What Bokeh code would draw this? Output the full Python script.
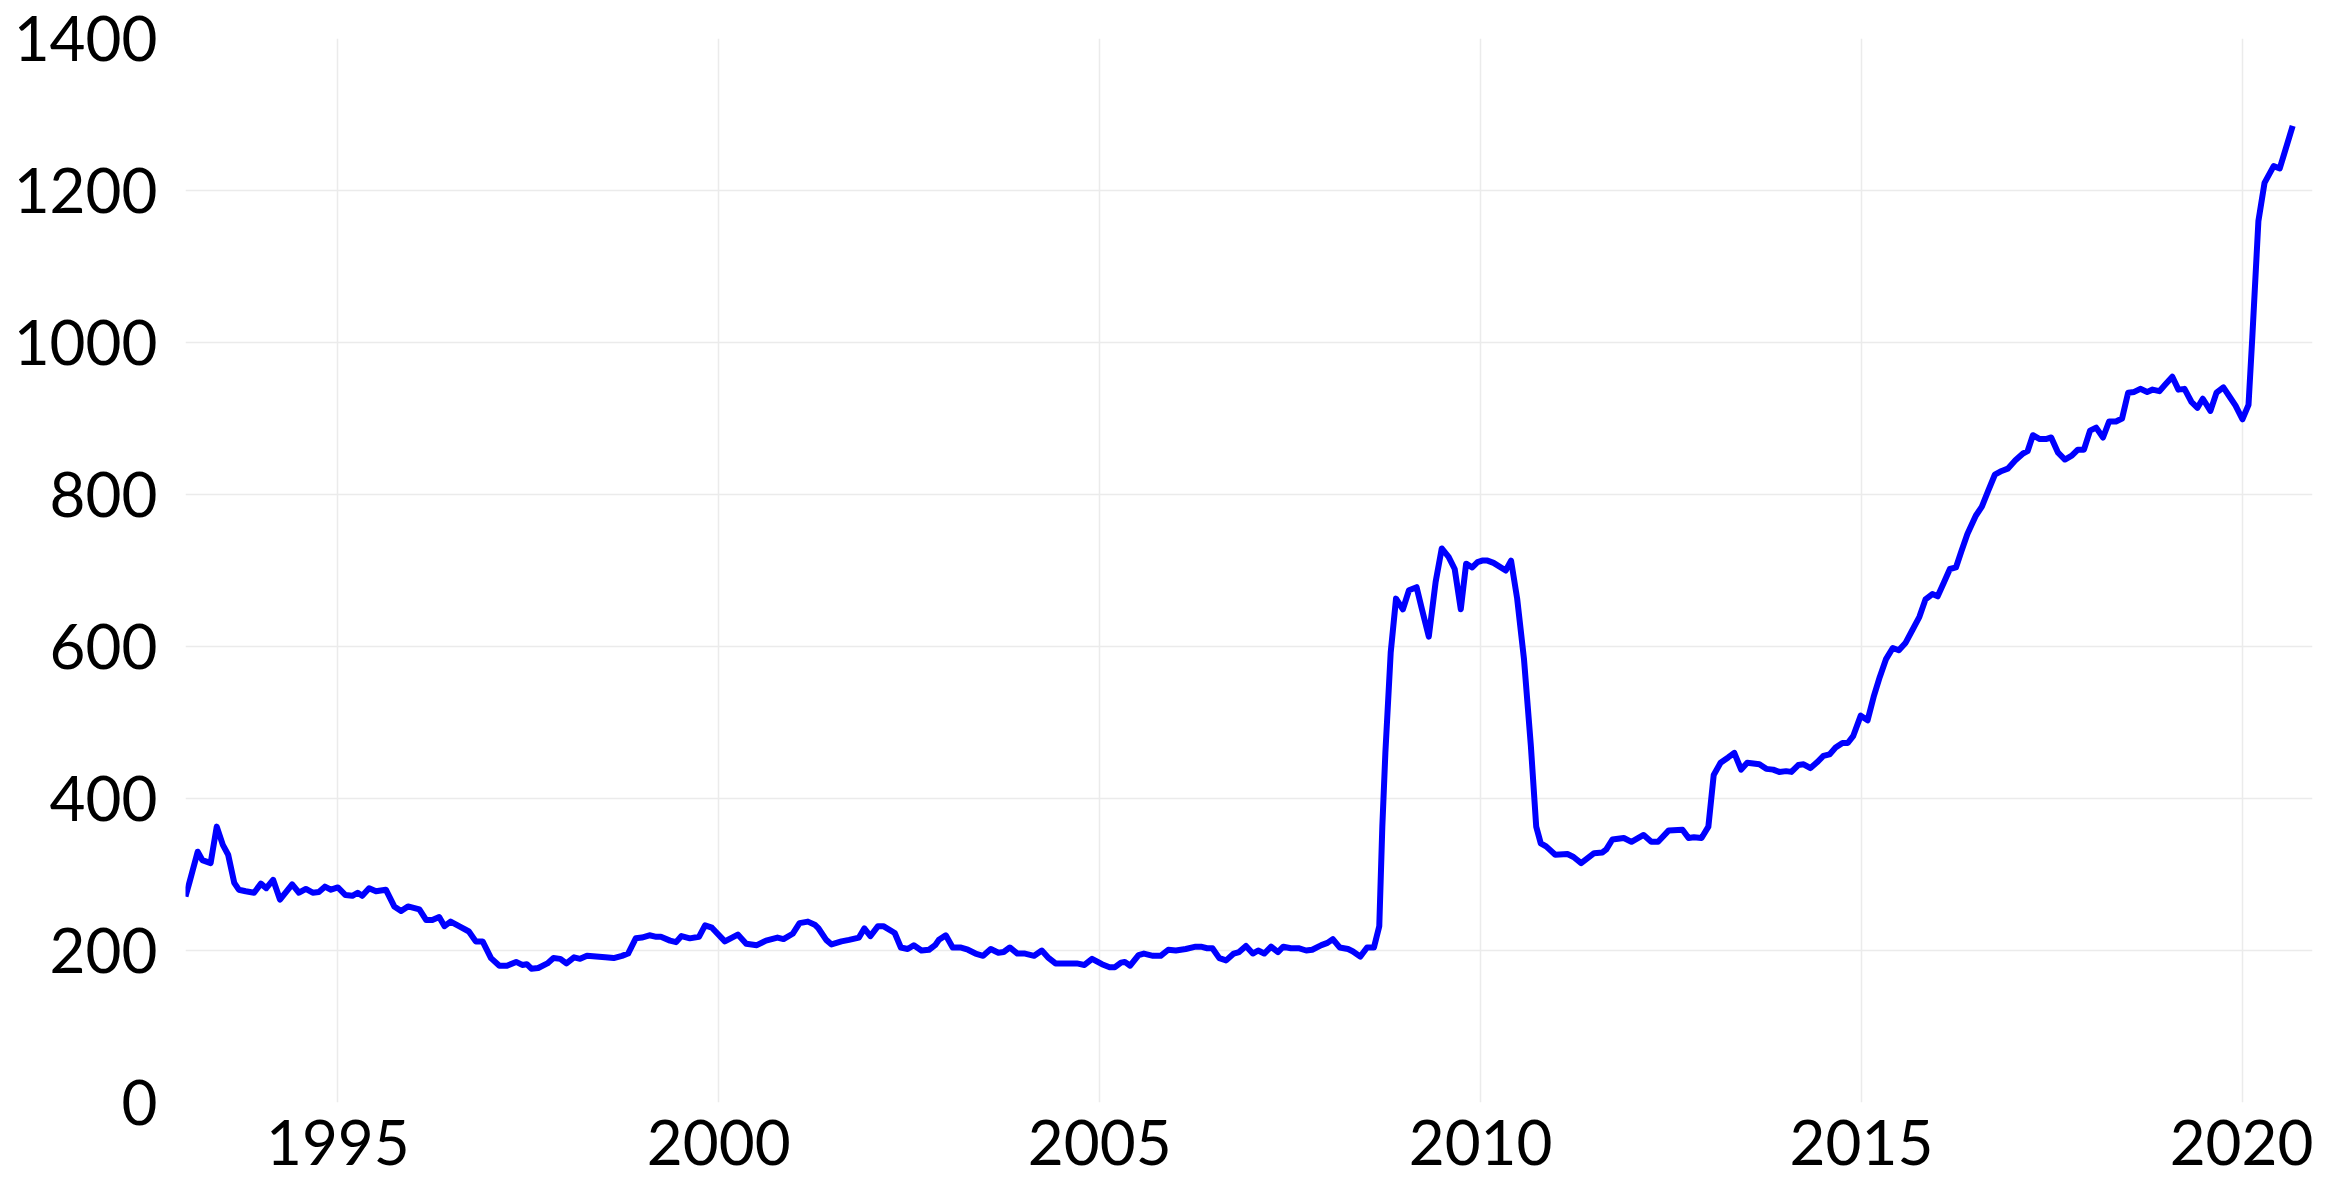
from bokeh.plotting import figure
from bokeh.models import FixedTicker, Range1d
from bokeh.embed import file_html
from bokeh.resources import INLINE

# decimal year of each reading
years = [
    1993.00, 1993.05, 1993.16, 1993.22, 1993.33, 1993.41, 1993.49, 1993.56, 1993.64, 1993.70,
    1993.79, 1993.90, 1993.99, 1994.06, 1994.15, 1994.24, 1994.40, 1994.49, 1994.58, 1994.67,
    1994.75, 1994.83, 1994.91, 1995.00, 1995.10, 1995.19, 1995.26, 1995.32, 1995.41, 1995.50,
    1995.63, 1995.74, 1995.83, 1995.92, 1996.07, 1996.16, 1996.24, 1996.33, 1996.40, 1996.48,
    1996.59, 1996.72, 1996.81, 1996.90, 1997.01, 1997.12, 1997.22, 1997.34, 1997.42, 1997.48,
    1997.54, 1997.63, 1997.75, 1997.83, 1997.92, 1998.00, 1998.10, 1998.18, 1998.27, 1998.39,
    1998.51, 1998.62, 1998.73, 1998.81, 1998.91, 1998.99, 1999.09, 1999.18, 1999.24, 1999.36,
    1999.44, 1999.51, 1999.62, 1999.74, 1999.82, 1999.91, 2000.08, 2000.25, 2000.36, 2000.50,
    2000.62, 2000.77, 2000.85, 2000.97, 2001.06, 2001.17, 2001.26, 2001.31, 2001.41, 2001.48,
    2001.61, 2001.71, 2001.84, 2001.91, 2001.99, 2002.09, 2002.16, 2002.31, 2002.39, 2002.48,
    2002.56, 2002.66, 2002.76, 2002.84, 2002.89, 2002.98, 2003.07, 2003.17, 2003.27, 2003.37,
    2003.47, 2003.57, 2003.67, 2003.74, 2003.82, 2003.92, 2004.02, 2004.14, 2004.24, 2004.32,
    2004.42, 2004.55, 2004.70, 2004.80, 2004.90, 2005.03, 2005.13, 2005.20, 2005.28, 2005.33,
    2005.40, 2005.51, 2005.58, 2005.70, 2005.80, 2005.90, 2006.00, 2006.13, 2006.26, 2006.33,
    2006.41, 2006.48, 2006.57, 2006.66, 2006.76, 2006.83, 2006.92, 2007.01, 2007.08, 2007.16,
    2007.25, 2007.34, 2007.41, 2007.51, 2007.61, 2007.71, 2007.79, 2007.91, 2007.99, 2008.06,
    2008.15, 2008.26, 2008.32, 2008.42, 2008.51, 2008.60, 2008.67, 2008.71, 2008.75, 2008.82,
    2008.89, 2008.98, 2009.06, 2009.16, 2009.23, 2009.32, 2009.41, 2009.49, 2009.58, 2009.66,
    2009.74, 2009.81, 2009.89, 2009.96, 2010.02, 2010.09, 2010.17, 2010.33, 2010.40, 2010.48,
    2010.57, 2010.66, 2010.73, 2010.79, 2010.86, 2010.98, 2011.14, 2011.22, 2011.32, 2011.49,
    2011.60, 2011.65, 2011.73, 2011.88, 2011.98, 2012.14, 2012.24, 2012.33, 2012.47, 2012.65,
    2012.73, 2012.80, 2012.90, 2012.99, 2013.06, 2013.15, 2013.25, 2013.33, 2013.42, 2013.50,
    2013.66, 2013.75, 2013.84, 2013.92, 2014.01, 2014.08, 2014.17, 2014.24, 2014.33, 2014.42,
    2014.50, 2014.58, 2014.66, 2014.75, 2014.82, 2014.89, 2014.99, 2015.08, 2015.16, 2015.24,
    2015.32, 2015.41, 2015.49, 2015.58, 2015.67, 2015.76, 2015.84, 2015.93, 2016.00, 2016.08,
    2016.16, 2016.24, 2016.31, 2016.39, 2016.50, 2016.58, 2016.66, 2016.75, 2016.84, 2016.92,
    2017.02, 2017.12, 2017.18, 2017.25, 2017.34, 2017.42, 2017.49, 2017.58, 2017.67, 2017.76,
    2017.84, 2017.92, 2018.00, 2018.08, 2018.17, 2018.25, 2018.34, 2018.42, 2018.50, 2018.58,
    2018.66, 2018.75, 2018.82, 2018.91, 2018.99, 2019.08, 2019.16, 2019.24, 2019.33, 2019.41,
    2019.48, 2019.58, 2019.66, 2019.75, 2019.83, 2019.91, 2020.00, 2020.08, 2020.13, 2020.21,
    2020.29, 2020.41, 2020.49, 2020.66,
]

values = [
    271, 289, 330, 319, 315, 363, 339, 326, 289, 280,
    278, 276, 288, 282, 293, 267, 287, 276, 281, 276,
    277, 284, 280, 283, 273, 272, 276, 272, 282, 278,
    280, 258, 252, 258, 254, 240, 240, 244, 232, 238,
    232, 225, 212, 212, 190, 180, 180, 185, 181, 182,
    176, 177, 183, 190, 189, 183, 191, 189, 193, 192,
    191, 190, 193, 196, 216, 217, 220, 218, 218, 213,
    211, 219, 216, 218, 233, 230, 212, 221, 209, 207,
    213, 217, 215, 222, 236, 238, 234, 229, 214, 208,
    212, 214, 217, 229, 219, 232, 232, 223, 204, 202,
    207, 200, 201, 207, 214, 220, 204, 204, 201, 196,
    193, 202, 197, 198, 204, 196, 196, 193, 200, 191,
    183, 183, 183, 181, 189, 182, 178, 178, 184, 185,
    180, 194, 196, 193, 193, 201, 200, 202, 205, 205,
    203, 203, 190, 187, 196, 198, 206, 196, 200, 196,
    205, 198, 205, 203, 203, 200, 201, 207, 210, 215,
    204, 202, 199, 192, 204, 204, 232, 363, 460, 592,
    663, 649, 674, 678, 649, 613, 685, 729, 718, 702,
    649, 709, 704, 711, 713, 713, 710, 700, 713, 663,
    583, 469, 363, 341, 337, 326, 327, 323, 315, 328,
    329, 333, 346, 348, 343, 352, 343, 343, 358, 359,
    348, 349, 348, 363, 431, 447, 454, 460, 438, 447,
    445, 439, 438, 435, 436, 435, 444, 445, 440, 448,
    456, 458, 467, 473, 473, 482, 509, 503, 534, 560,
    583, 598, 595, 605, 622, 639, 662, 669, 666, 684,
    702, 704, 725, 748, 772, 784, 804, 826, 831, 834,
    845, 854, 857, 878, 873, 873, 875, 855, 846, 851,
    859, 859, 884, 888, 875, 896, 896, 900, 934, 935,
    939, 935, 938, 936, 945, 955, 938, 939, 922, 914,
    926, 910, 934, 941, 929, 917, 899, 918, 1007, 1160,
    1210, 1232, 1229, 1285,
]

x_ticks = [1995, 2000, 2005, 2010, 2015, 2020]
y_ticks = [0, 200, 400, 600, 800, 1000, 1200, 1400]

p = figure(width=2313, height=1178, output_backend="svg", toolbar_location=None,
           x_range=Range1d(1993.0, 2020.92), y_range=Range1d(0, 1400),
           min_border_left=185, min_border_right=1, min_border_top=38, min_border_bottom=76)
p.outline_line_color = None
p.background_fill_color = "white"
p.border_fill_color = "white"

p.line(years, values, line_color="#0000ff", line_width=6, line_join="round")

for ax in (p.xaxis[0], p.yaxis[0]):
    ax.axis_line_color = None
    ax.major_tick_line_color = None
    ax.minor_tick_line_color = None
    ax.major_tick_out = 0
    ax.major_tick_in = 0
    ax.major_label_text_font = "Lato"
    ax.major_label_text_font_size = "62px"
    ax.major_label_text_color = "black"

p.xaxis.ticker = FixedTicker(ticks=x_ticks)
p.yaxis.ticker = FixedTicker(ticks=y_ticks)
p.xaxis.major_label_standoff = 17
p.yaxis.major_label_standoff = 28

p.xgrid.ticker = FixedTicker(ticks=x_ticks)
p.ygrid.ticker = FixedTicker(ticks=y_ticks[1:-1])
p.xgrid.grid_line_color = "#ebebeb"
p.ygrid.grid_line_color = "#ebebeb"
p.xgrid.grid_line_width = 1.5
p.ygrid.grid_line_width = 1.5

open("out.html", "w").write(file_html(p, INLINE))
